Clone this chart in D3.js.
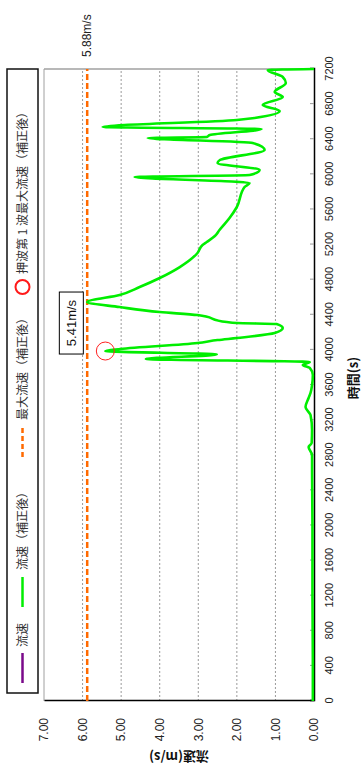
<!DOCTYPE html>
<html>
<head>
<meta charset="utf-8">
<script src="https://cdn.jsdelivr.net/npm/d3@7"></script>
<style>
  html, body { margin: 0; padding: 0; background: #fff; }
  svg { display: block; }
  text { font-family: "Liberation Sans", Arial, sans-serif; }
  .jp { font-family: "Noto Sans CJK JP", "Noto Sans", sans-serif; }
</style>
</head>
<body>
<svg id="chart" width="362" height="769"></svg>
<script>
// Time series of corrected flow velocity (s, m/s)
const times = [0, 400, 1200, 2000, 2600, 2802, 2894, 2939, 3087, 3258, 3349, 3452, 3509, 3600, 3714,
  3794, 3828, 3862, 3896, 3947, 3987, 4010, 4078, 4112, 4135, 4192, 4249, 4295, 4306, 4317,
  4397, 4431, 4488, 4545, 4625, 4716, 4819, 4944, 5104, 5195, 5229, 5297, 5366, 5502, 5628,
  5855, 5901, 5969, 5992, 6049, 6129, 6163, 6277, 6357, 6414, 6425, 6448, 6516, 6539, 6619,
  6642, 6721, 6790, 6881, 6938, 7040, 7109, 7189, 7200];
const velocity = [0.03, 0.03, 0.04, 0.04, 0.05, 0.05, 0.14, 0.06, 0.05, 0.09, 0.22, 0.14, 0.09, 0.05, 0.03,
  0.11, 0.29, 0.11, 4.36, 2.52, 5.41, 5.02, 3.02, 2.50, 2.00, 1.02, 0.81, 0.97, 2.00, 2.26,
  3.02, 4.00, 5.04, 5.88, 5.04, 4.52, 4.00, 3.48, 3.02, 2.89, 2.78, 2.57, 2.45, 2.19, 2.00,
  1.80, 1.67, 4.65, 1.67, 1.41, 2.50, 2.44, 1.28, 1.59, 4.31, 2.78, 2.70, 1.36, 5.48, 2.00,
  1.54, 0.89, 1.33, 0.81, 1.02, 0.73, 0.81, 1.20, 0];

// Reference values
const maxVelocity = 5.88;            // 最大流速(補正後)
const firstWavePeak = { t: 3987, v: 5.41 };  // 押波第1波最大流速(補正後)

// Axis ticks
const timeTicks = d3.range(0, 7201, 400);
const velocityTicks = [0, 1, 2, 3, 4, 5, 6, 7];

// Legend entries
const legendLabels = ["流速", "流速（補正後）", "最大流速（補正後）", "押波第 1 波最大流速（補正後）"];

const plotW = 632, plotH = 270;   // in the unrotated frame: time across, velocity up
const svg = d3.select("#chart");

const x = d3.scaleLinear().domain([0, 7200]).range([0, plotW]);
const y = d3.scaleLinear().domain([0, 7]).range([plotH, 0]);

// The whole chart is laid out on its side: time runs upward, velocity leftward
const g = svg.append("g").attr("transform", "translate(44,701) rotate(-90)");

// Grid lines for velocity
g.append("g").selectAll("line")
  .data(velocityTicks.filter(d => d > 0 && d < 7))
  .join("line")
  .attr("x1", 0).attr("x2", plotW)
  .attr("y1", d => y(d)).attr("y2", d => y(d))
  .attr("stroke", "#9a9a9a").attr("stroke-width", 1)
  .attr("stroke-dasharray", "2,2");

// Plot frame: top and right edges in gray
g.append("line").attr("x1", 0).attr("x2", plotW).attr("y1", y(7)).attr("y2", y(7))
  .attr("stroke", "#a0a0a0").attr("stroke-width", 1);
g.append("line").attr("x1", plotW).attr("x2", plotW).attr("y1", 0).attr("y2", plotH)
  .attr("stroke", "#a0a0a0").attr("stroke-width", 1.5);

// Time axis
const xAxis = d3.axisBottom(x).tickValues(timeTicks).tickSize(-4).tickPadding(11).tickFormat(d3.format("d"));
const gx = g.append("g").attr("transform", `translate(0,${plotH})`).call(xAxis);
gx.select(".domain").attr("stroke", "#000").attr("stroke-width", 1.5);
gx.selectAll(".tick line").attr("stroke", "#999");
gx.selectAll(".tick text").attr("font-size", 11).attr("fill", "#222")
  .attr("font-family", "'Liberation Sans', Arial, sans-serif");

// Velocity axis
const yAxis = d3.axisLeft(y).tickValues(velocityTicks).tickSize(0).tickPadding(17).tickFormat(d3.format(".2f"));
const gy = g.append("g").call(yAxis);
gy.select(".domain").attr("stroke", "#000").attr("stroke-width", 1.5);
gy.selectAll(".tick text").attr("font-size", 12).attr("fill", "#222")
  .attr("font-family", "'Liberation Sans', Arial, sans-serif");

// Maximum velocity line
g.append("line")
  .attr("x1", 0).attr("x2", plotW)
  .attr("y1", y(maxVelocity)).attr("y2", y(maxVelocity))
  .attr("stroke", "#ff6a00").attr("stroke-width", 2.5)
  .attr("stroke-dasharray", "6,3");
g.append("text")
  .attr("x", plotW + 12).attr("y", y(maxVelocity))
  .attr("dy", "0.35em")
  .attr("font-size", 12).attr("fill", "#222")
  .text("5.88m/s");

// Corrected velocity series
const series = times.map((t, i) => ({ t, v: velocity[i] }));
const line = d3.line().x(d => x(d.t)).y(d => y(d.v)).curve(d3.curveMonotoneX);
g.append("path")
  .datum(series)
  .attr("fill", "none")
  .attr("stroke", "#00ee00")
  .attr("stroke-width", 2.6)
  .attr("stroke-linejoin", "round")
  .attr("d", line);

// First push-wave peak marker and its label
g.append("circle")
  .attr("cx", x(firstWavePeak.t)).attr("cy", y(firstWavePeak.v))
  .attr("r", 9)
  .attr("fill", "none").attr("stroke", "#ff2020").attr("stroke-width", 1);

const lbl = g.append("g").attr("transform", `translate(${x(firstWavePeak.t) - 3},${y(firstWavePeak.v) - 46})`);
lbl.append("rect").attr("x", 0).attr("y", 0).attr("width", 62).attr("height", 24)
  .attr("fill", "#fff").attr("stroke", "#000").attr("stroke-width", 1);
lbl.append("text").attr("x", 31).attr("y", 12).attr("dy", "0.36em")
  .attr("text-anchor", "middle").attr("font-size", 13).attr("fill", "#111")
  .text(firstWavePeak.v.toFixed(2) + "m/s");

// Axis titles
g.append("text").attr("class", "jp")
  .attr("x", plotW / 2 + 7).attr("y", 314)
  .attr("text-anchor", "middle").attr("font-size", 13).attr("font-weight", "bold").attr("fill", "#111")
  .text("時間(s)");
g.append("text").attr("class", "jp")
  .attr("transform", `translate(-56,${plotH / 2}) rotate(-90)`)
  .attr("text-anchor", "middle").attr("dy", "0.35em")
  .attr("font-size", 13).attr("font-weight", "bold").attr("fill", "#111")
  .text("流速(m/s)");

// Legend box above the plot
const lg = g.append("g").attr("transform", "translate(8,-37)");
lg.append("rect").attr("x", 0).attr("y", 0).attr("width", 624).attr("height", 31)
  .attr("fill", "#fff").attr("stroke", "#111").attr("stroke-width", 1.5);
const ly = 15.5;
lg.append("line").attr("x1", 10).attr("x2", 40).attr("y1", ly).attr("y2", ly)
  .attr("stroke", "#7a0a8a").attr("stroke-width", 2.5);
lg.append("text").attr("class", "jp").attr("x", 46).attr("y", ly).attr("dy", "0.36em")
  .attr("font-size", 12).attr("fill", "#333").text(legendLabels[0]);
lg.append("line").attr("x1", 86).attr("x2", 116).attr("y1", ly).attr("y2", ly)
  .attr("stroke", "#00ee00").attr("stroke-width", 2.5);
lg.append("text").attr("class", "jp").attr("x", 123).attr("y", ly).attr("dy", "0.36em")
  .attr("font-size", 12).attr("fill", "#333").text(legendLabels[1]);
lg.append("line").attr("x1", 236).attr("x2", 266).attr("y1", ly).attr("y2", ly)
  .attr("stroke", "#ff6a00").attr("stroke-width", 2.5).attr("stroke-dasharray", "5,3");
lg.append("text").attr("class", "jp").attr("x", 273).attr("y", ly).attr("dy", "0.36em")
  .attr("font-size", 12).attr("fill", "#333").text(legendLabels[2]);
lg.append("circle").attr("cx", 406).attr("cy", ly).attr("r", 7)
  .attr("fill", "none").attr("stroke", "#ff1a1a").attr("stroke-width", 2);
lg.append("text").attr("class", "jp").attr("x", 419).attr("y", ly).attr("dy", "0.36em")
  .attr("font-size", 12).attr("fill", "#333").text(legendLabels[3]);
</script>
</body>
</html>
